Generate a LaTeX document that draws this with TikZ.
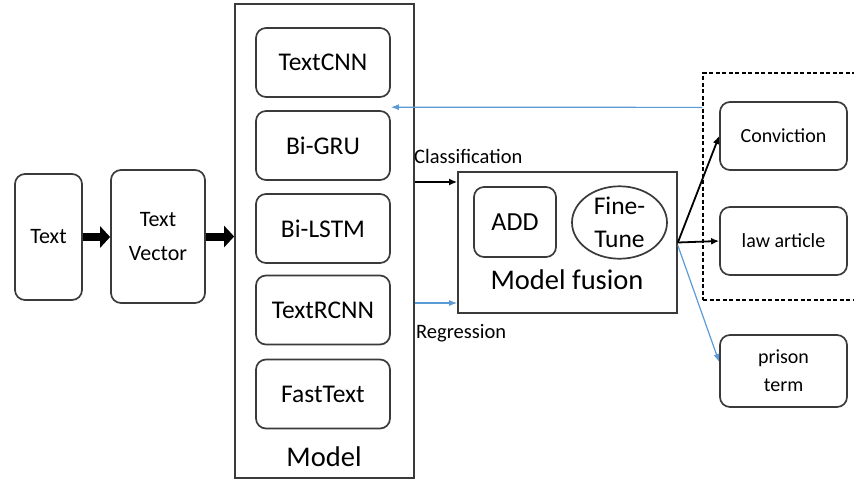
\documentclass[tikz,border=0pt]{standalone}
\usepackage{fontspec}
\setmainfont{Carlito}
\usetikzlibrary{arrows.meta,shapes.geometric}
\definecolor{edge}{HTML}{3A3A3A}
\definecolor{linkblue}{HTML}{5B9BD5}
\newcommand{\fsz}[1]{\fontsize{#1}{#1}\selectfont}

\begin{document}
\begin{tikzpicture}[x=1pt,y=-1pt,
  box/.style={draw=edge, line width=1.7pt, rounded corners=10pt, align=center, inner sep=0pt},
  modelbox/.style={box, minimum width=134pt, minimum height=69pt, font=\fsz{25.5}},
  outbox/.style={box, minimum width=127pt, minimum height=68pt, font=\fsz{20}},
  frame/.style={draw=edge, line width=1.7pt, inner sep=0pt},
  bigarrow/.style={line width=8pt, -{Triangle[length=10pt,width=21pt]}},
  blackarrow/.style={line width=1.8pt, -{Latex[length=8pt,width=7pt]}},
  bluearrow/.style={draw=linkblue, line width=1.2pt, -{Latex[length=8pt,width=6pt]}},
  label/.style={font=\fsz{20.5}, inner sep=0pt, anchor=west}]
\useasboundingbox (0,0) rectangle (854,485);
\clip (0,0) rectangle (854,485);

% input stages
\node[box, minimum width=67pt, minimum height=126pt, font=\fsz{22}] (text) at (48.5,237) {Text};
\node[box, minimum width=94pt, minimum height=133pt, font=\fsz{22}] (vec) at (158,236.5) {Text\\[12pt]Vector};

% model column
\node[frame, minimum width=179pt, minimum height=474pt] (model) at (324.5,241) {};
\node[modelbox] (cnn)  at (323,62.5)  {TextCNN};
\node[modelbox] (gru)  at (323,145.5) {Bi-GRU};
\node[modelbox] (lstm) at (323,228.5) {Bi-LSTM};
\node[modelbox] (rcnn) at (323,310)   {TextRCNN};
\node[modelbox] (fast) at (323,394)   {FastText};
\node[font=\fsz{28.5}, inner sep=0pt] (modellbl) at (324,457) {Model};

% fusion block
\node[frame, minimum width=219pt, minimum height=141pt] (fusion) at (567.5,242.5) {};
\node[box, minimum width=82pt, minimum height=70pt, font=\fsz{26}] (add) at (515,222) {ADD};
\node[draw=edge, line width=1.7pt, ellipse, minimum width=95pt, minimum height=71pt, inner sep=0pt,
      align=center, font=\fsz{25.5}] (tune) at (619.5,222.5) {Fine-\\[8pt]Tune};
\node[font=\fsz{28.5}, inner sep=0pt] (fusionlbl) at (567,280) {Model fusion};

% outputs
\node[draw=black, line width=1.2pt, dash pattern=on 4pt off 2.5pt, minimum width=197pt, minimum height=227pt,
      inner sep=0pt] (group) at (801.5,186.5) {};
\node[outbox] (conv)   at (783.5,136) {Conviction};
\node[outbox] (law)    at (783.5,241) {law article};
\node[outbox, minimum height=72pt] (prison) at (783.5,371) {prison\\[8pt]term};

% connector end points
\coordinate (clsrow) at (0,182);
\coordinate (regrow) at (0,303);
\path (group.north west) ++(0,35) coordinate (feedback);

% connectors
\draw[bigarrow] (text.east) -- (vec.west |- text.east);
\draw[bigarrow] (vec.east) -- (model.west |- vec.east);
\draw[blackarrow] (model.east |- clsrow) -- (fusion.west |- clsrow);
\draw[bluearrow] (model.east |- regrow) -- (fusion.west |- regrow);
\draw[bluearrow] (feedback) -- ([yshift=3pt]gru.north east);
\draw[blackarrow] (fusion.east) -- (conv.west);
\draw[blackarrow] (fusion.east) -- (law.west);
\draw[bluearrow] ([yshift=-3pt]fusion.east) -- ([yshift=9pt]prison.west);

% arrow labels
\node[label] (clslbl) at (414,156) {Classification};
\node[label] (reglbl) at (416,333) {Regression};
\end{tikzpicture}
\end{document}
